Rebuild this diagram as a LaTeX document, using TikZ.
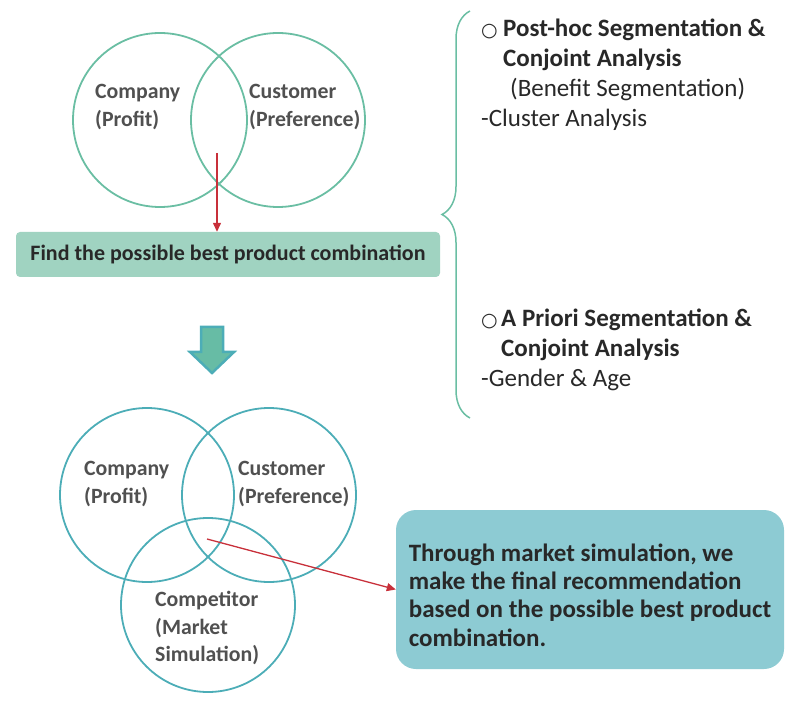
\documentclass[tikz,border=0pt]{standalone}
\usepackage{fontspec}
\setmainfont{Carlito}
\newfontfamily\symfont{DejaVu Sans}
\usepackage{xcolor}
\usepackage{tikz}
\usetikzlibrary{arrows.meta,positioning,calc,decorations.pathreplacing}
\definecolor{vennmint}{RGB}{106,190,163}
\definecolor{vennteal}{RGB}{76,173,183}
\definecolor{barmint}{RGB}{160,211,193}
\definecolor{boxteal}{RGB}{141,203,211}
\definecolor{arrowred}{RGB}{200,48,58}
\definecolor{labelgray}{RGB}{80,80,80}
\definecolor{textdark}{RGB}{40,40,40}

\begin{document}
\begin{tikzpicture}[
    x=1pt, y=-1pt,
    every node/.style={inner sep=0pt},
    venntop/.style={circle, draw=vennmint, line width=1.8pt, minimum size=174pt},
    vennbot/.style={circle, draw=vennteal, line width=1.8pt, minimum size=174pt},
    vlabel/.style={align=left, anchor=west, text=labelgray, font=\fontsize{21.8}{27.5}\selectfont\bfseries},
    findbar/.style={rectangle, rounded corners=4pt, fill=barmint, minimum width=424pt, minimum height=45pt, text=textdark, font=\fontsize{22}{26}\selectfont\bfseries},
    segtext/.style={align=left, anchor=north west, text=textdark, font=\fontsize{25}{30}\selectfont},
    finalbox/.style={rectangle, rounded corners=20pt, fill=boxteal, minimum width=388pt, minimum height=159pt, align=left, text=textdark, font=\fontsize{25}{28.4}\selectfont\bfseries},
    arr/.style={-{Triangle[length=9pt,width=8pt]}, line width=1.3pt, draw=arrowred},
    blockarr/.style={draw=vennteal, fill=vennmint!90!vennteal, line width=2.5pt, line join=miter}
]
\useasboundingbox (0,0) rectangle (796,714);

% two-circle venn
\node[venntop] (compA) at (160,120) {};
\node[venntop] (custA) at (278,120) {};
\node[vlabel] (compAlbl) at (95,107) {Company\\(Profit)};
\node[vlabel] (custAlbl) at (249,107) {Customer\\(Preference)};

\node[findbar] (best) at (228,254.5) {Find the possible best product combination};
\coordinate (bestsrc) at (217,153);
\draw[arr] (bestsrc) -- (bestsrc |- best.north);

% block arrow down
\draw[blockarr] (201,327) -- (223,327) -- (223,352) -- (234,352) -- (212,373) -- (190,352) -- (201,352) -- cycle;

% segmentation notes
\draw[decorate, decoration={brace, amplitude=28pt}, draw=vennmint, line width=1.5pt] (470,418) -- (470,11);
\node[segtext] (posthoc) at (481,19) {\makebox[22pt][l]{\symfont\fontsize{19}{30}\selectfont ○}\textbf{Post-hoc Segmentation \&}\\\hspace*{22pt}\textbf{Conjoint Analysis}\\\hspace*{29pt}(Benefit Segmentation)\\-Cluster Analysis};
\node[segtext] (apriori) at (481,309) {\makebox[20pt][l]{\symfont\fontsize{19}{30}\selectfont ○}\textbf{A Priori Segmentation \&}\\\hspace*{20pt}\textbf{Conjoint Analysis}\\-Gender \& Age};

% three-circle venn
\node[vennbot] (compB) at (147,495) {};
\node[vennbot] (custB) at (269,495) {};
\node[vennbot] (compet) at (208,605) {};
\node[vlabel] (compBlbl) at (84,484) {Company\\(Profit)};
\node[vlabel] (custBlbl) at (238,484) {Customer\\(Preference)};
\node[vlabel] (competlbl) at (155,628) {Competitor\\(Market\\Simulation)};

\node[finalbox] (final) at (590,589.5) {\rule{0pt}{28.5pt}Through market simulation, we\\make the final recommendation\\based on the possible best product\\combination.};
\coordinate (finalsrc) at (207,539);
\draw[arr] (finalsrc) -- (final.west);

\end{tikzpicture}
\end{document}
